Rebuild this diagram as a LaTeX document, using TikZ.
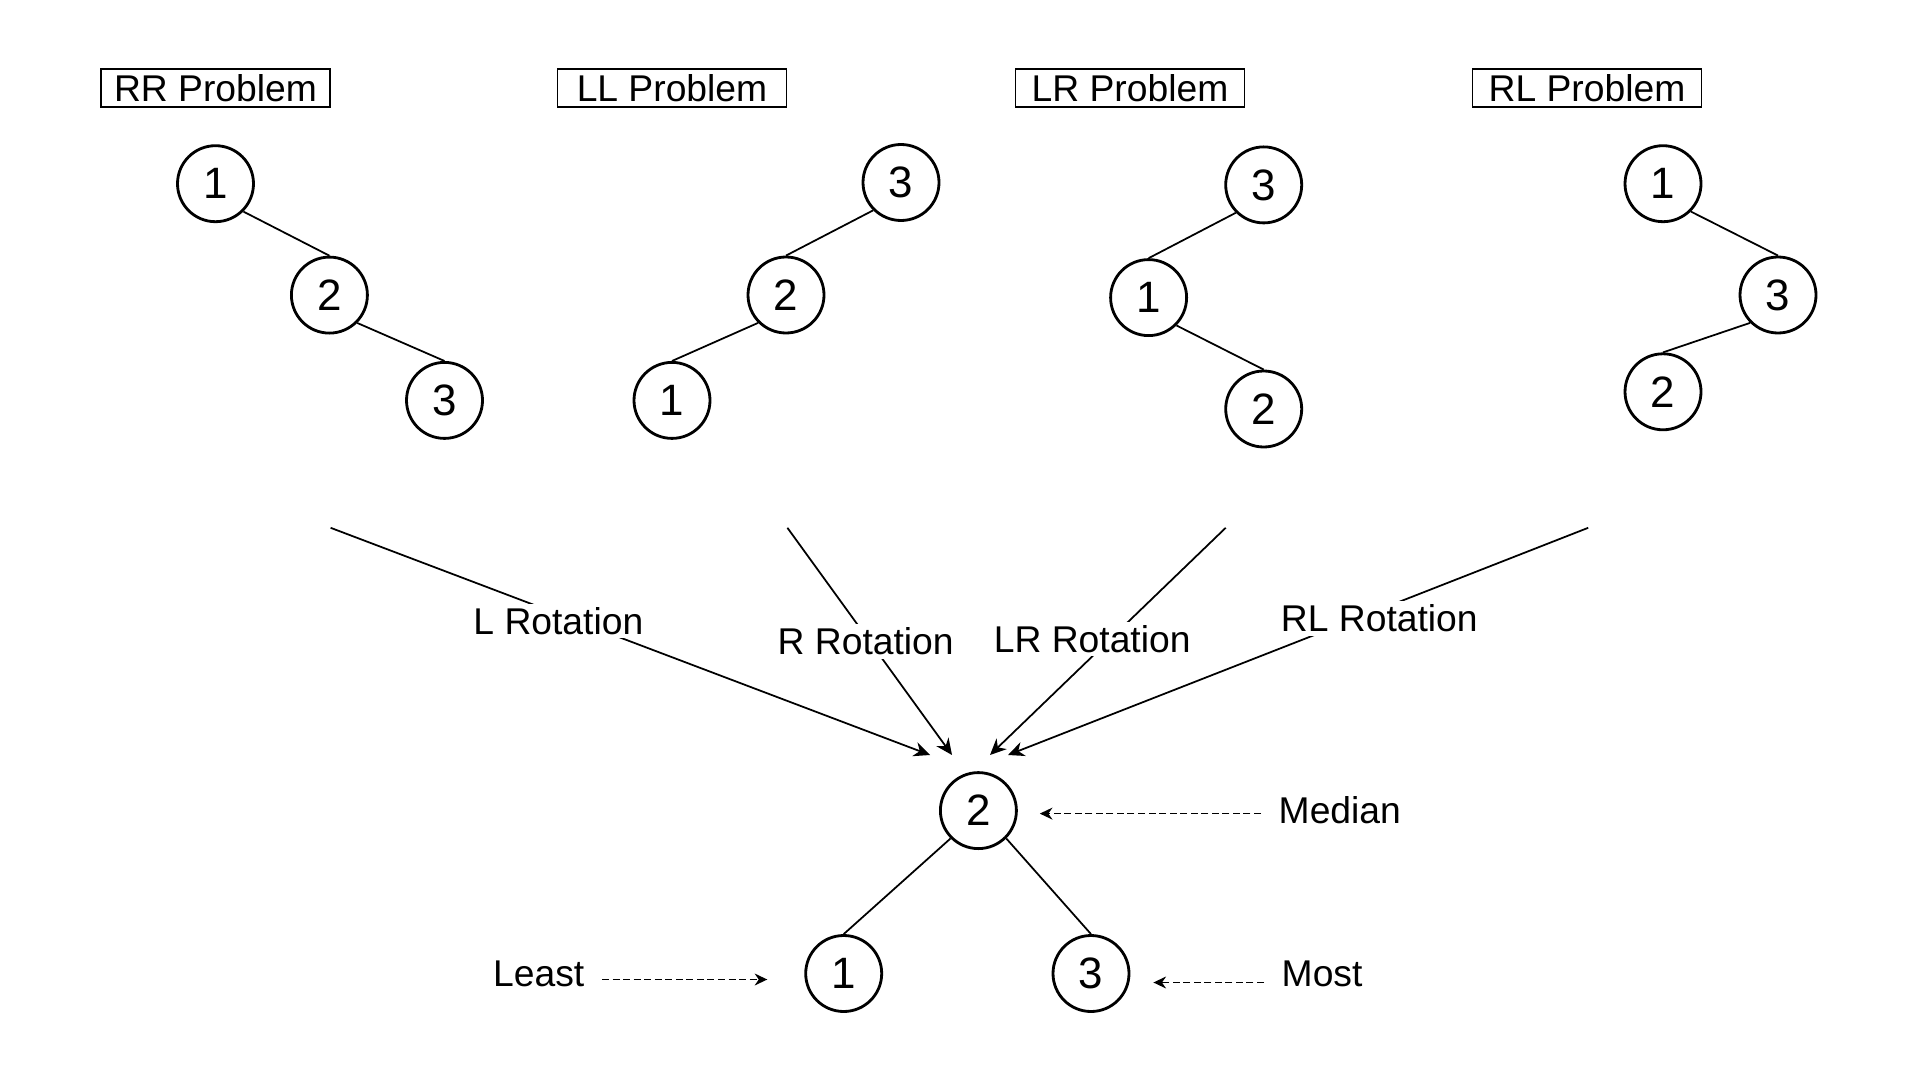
\documentclass[tikz,border=0pt]{standalone}
\usepackage{fontspec}
\setmainfont{Liberation Sans}
\usetikzlibrary{arrows.meta, positioning}

\begin{document}
\begin{tikzpicture}[
            % Set global font size for consistency
            font=\fontsize{10.6}{12}\selectfont,
            % Define reusable styles for different elements of the diagram
            title/.style={draw, line width=0.45pt, minimum width=2.29cm, minimum height=0.38cm, inner sep=0pt},
            tnode/.style={circle, draw, line width=0.8pt, minimum size=0.76cm, inner sep=0pt, font=\fontsize{12.5}{14}\selectfont},
            edge/.style={line width=0.5pt},
            rot/.style={-{Stealth[length=4.6pt, width=4.2pt]}, line width=0.5pt},
            lbl/.style={fill=white, inner sep=1pt},
            note/.style={inner sep=0.17cm},
            hint/.style={-{Stealth[length=3.6pt, width=3.4pt]}, line width=0.45pt, dash pattern=on 2pt off 1pt}
        ]

        \useasboundingbox (0,0) rectangle (19.2,-10.8);

        % Problem titles
        \foreach \x/\t/\n in {2.155/RR/trr, 6.72/LL/tll, 11.30/LR/tlr, 15.87/RL/trl} {
            \node[title] (\n) at (\x,-0.88) {\t\ Problem};
        }

        % RR problem
        \node[tnode] (rr1) at (2.155,-1.837) {1};
        \node[tnode] (rr2) at (3.294,-2.951) {2};
        \node[tnode] (rr3) at (4.445,-4.004) {3};
        \draw[edge] (rr1.south east) -- (rr2.north);
        \draw[edge] (rr2.south east) -- (rr3.north);

        % LL problem
        \node[tnode] (ll3) at (9.01,-1.825) {3};
        \node[tnode] (ll2) at (7.86,-2.95) {2};
        \node[tnode] (ll1) at (6.72,-4.004) {1};
        \draw[edge] (ll3.south west) -- (ll2.north);
        \draw[edge] (ll2.south west) -- (ll1.north);

        % LR problem
        \node[tnode] (lr3) at (12.637,-1.849) {3};
        \node[tnode] (lr1) at (11.486,-2.976) {1};
        \node[tnode] (lr2) at (12.637,-4.09) {2};
        \draw[edge] (lr3.south west) -- (lr1.north);
        \draw[edge] (lr1.south east) -- (lr2.north);

        % RL problem
        \node[tnode] (rl1) at (16.63,-1.837) {1};
        \node[tnode] (rl3) at (17.78,-2.95) {3};
        \node[tnode] (rl2) at (16.63,-3.918) {2};
        \draw[edge] (rl1.south east) -- (rl3.north);
        \draw[edge] (rl3.south west) -- (rl2.north);

        % Balanced result
        \node[tnode] (m2) at (9.784,-8.106) {2};
        \node[tnode] (m1) at (8.437,-9.735) {1};
        \node[tnode] (m3) at (10.91,-9.735) {3};
        \draw[edge] (m2.south west) -- (m1.north);
        \draw[edge] (m2.south east) -- (m3.north);

        % Rotation arrows
        \coordinate (s1) at (3.306,-5.278);
        \coordinate (s2) at (7.874,-5.278);
        \coordinate (s3) at (12.257,-5.278);
        \coordinate (s4) at (15.882,-5.278);
        \coordinate (e1) at (9.30,-7.55);
        \coordinate (e2) at (9.52,-7.55);
        \coordinate (e3) at (9.90,-7.55);
        \coordinate (e4) at (10.08,-7.55);

        \draw[rot] (s1) -- node[lbl, pos=0.38, yshift=-0.07cm] {L Rotation} (e1);
        \draw[rot] (s2) -- node[lbl, pos=0.5, xshift=-0.04cm] {R Rotation} (e2);
        \draw[rot] (s3) -- node[lbl, pos=0.49, xshift=-0.18cm] {LR Rotation} (e3);
        \draw[rot] (s4) -- node[lbl, pos=0.36, yshift=-0.09cm] {RL Rotation} (e4);

        % Notes
        \node[note, anchor=west] (median) at (12.61,-8.106) {Median};
        \node[note, anchor=east] (least) at (6.02,-9.735) {Least};
        \node[note, anchor=west] (most) at (12.64,-9.735) {Most};

        \draw[hint, shorten >=0.22cm] ([yshift=-0.03cm]median.west) -- ([yshift=-0.03cm]m2.east);
        \draw[hint, shorten >=0.37cm] ([yshift=-0.06cm]least.east) -- ([yshift=-0.06cm]m1.west);
        \draw[hint, shorten >=0.23cm] ([yshift=-0.09cm]most.west) -- ([yshift=-0.09cm]m3.east);

\end{tikzpicture}
\end{document}
